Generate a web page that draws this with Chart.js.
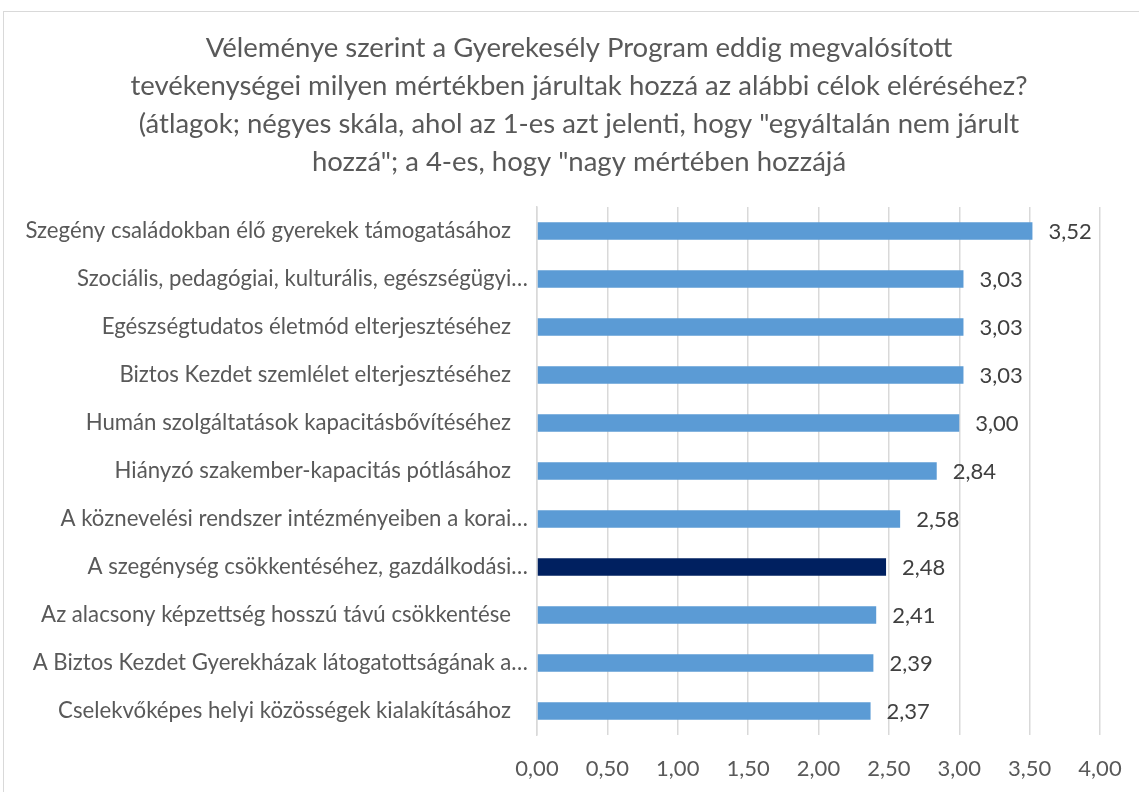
<!DOCTYPE html>
<html>
<head>
<meta charset="utf-8">
<script src="https://cdn.jsdelivr.net/npm/chart.js@4"></script>
<style>
  html, body { margin:0; padding:0; background:#fff; overflow:hidden; }
  #wrap { position:relative; width:1139px; height:792px; }
  #frame { position:absolute; left:3px; top:11px; width:1200px; height:900px; border:1px solid #d9d9d9; }
  #chart { position:absolute; left:0; top:0; }
</style>
</head>
<body>
<div id="wrap">
  <div id="frame"></div>
  <canvas id="chart" width="1139" height="792"></canvas>
</div>
<script>
// ---- chart data ----
const TITLE_LINES = [
  "Véleménye szerint a Gyerekesély Program eddig megvalósított",
  "tevékenységei milyen mértékben járultak hozzá az alábbi célok eléréséhez?",
  "(átlagok; négyes skála, ahol az 1-es azt jelenti, hogy \"egyáltalán nem járult",
  "hozzá\"; a 4-es, hogy \"nagy mértében hozzájá"
];

const categories = [
  "Szegény családokban élő gyerekek támogatásához",
  "Szociális, pedagógiai, kulturális, egészségügyi…",
  "Egészségtudatos életmód elterjesztéséhez",
  "Biztos Kezdet szemlélet elterjesztéséhez",
  "Humán szolgáltatások kapacitásbővítéséhez",
  "Hiányzó szakember-kapacitás pótlásához",
  "A köznevelési rendszer intézményeiben a korai…",
  "A szegénység csökkentéséhez, gazdálkodási…",
  "Az alacsony képzettség hosszú távú csökkentése",
  "A Biztos Kezdet Gyerekházak látogatottságának a…",
  "Cselekvőképes helyi közösségek kialakításához"
];

const values = [3.52, 3.03, 3.03, 3.03, 3.00, 2.84, 2.58, 2.48, 2.41, 2.39, 2.37];

const xTicks = [0, 0.5, 1, 1.5, 2, 2.5, 3, 3.5, 4];

const highlighted = 7;   // dark bar

// ---- helpers ----
const FONT = "Lato, 'Open Sans', sans-serif";
const fmt = (v) => v.toFixed(2).replace(".", ",");

// title drawn by hand: in the original it sits a bit right of the canvas centre
const titleBlock = {
  id: "titleBlock",
  afterDraw(chart) {
    const { ctx } = chart;
    ctx.save();
    ctx.font = "27.5px " + FONT;
    ctx.fillStyle = "#595959";
    ctx.textAlign = "center";
    ctx.textBaseline = "middle";
    TITLE_LINES.forEach((line, i) => ctx.fillText(line, 579, 48 + i * 38));
    ctx.restore();
  }
};

// value labels at the end of each bar
const valueLabels = {
  id: "valueLabels",
  afterDatasetsDraw(chart) {
    const { ctx } = chart;
    const meta = chart.getDatasetMeta(0);
    ctx.save();
    ctx.font = "22px " + FONT;
    ctx.fillStyle = "#404040";
    ctx.textAlign = "left";
    ctx.textBaseline = "middle";
    meta.data.forEach((bar, i) => {
      ctx.fillText(fmt(values[i]), bar.x + 16, bar.y + 1);
    });
    ctx.restore();
  }
};

new Chart(document.getElementById("chart"), {
  type: "bar",
  data: {
    labels: categories,
    datasets: [{
      data: values,
      backgroundColor: values.map((v, i) => i === highlighted ? "#002060" : "#5b9bd5"),
      borderWidth: 0,
      barPercentage: 0.36,
      categoryPercentage: 1
    }]
  },
  options: {
    indexAxis: "y",
    responsive: false,
    animation: false,
    layout: { padding: { left: 0, right: 39, top: 207, bottom: 0 } },
    plugins: {
      legend: { display: false },
      tooltip: { enabled: false },
      title: { display: false }
    },
    scales: {
      x: {
        min: 0, max: 4,
        afterBuildTicks: (s) => { s.ticks = xTicks.map(v => ({ value: v })); },
        afterFit: (s) => { s.height = 57; s.paddingLeft = 0; s.paddingRight = 0; },
        grid: { color: "#d9d9d9", lineWidth: 1.5, drawTicks: false },
        border: { display: false },
        ticks: {
          padding: 21,
          color: "#595959",
          font: { family: FONT, size: 22 },
          callback: (v) => fmt(v)
        }
      },
      y: {
        afterFit: (s) => { s.width = 537; },
        grid: { display: false, drawTicks: false },
        border: { display: true, color: "#d9d9d9", width: 1.5 },
        ticks: {
          padding: 9,
          color: "#595959",
          font: { family: FONT, size: 22.2 },
          // Excel leaves a gap after the labels that are not cut off
          callback: (v, i) => categories[i].endsWith("…") ? categories[i] : categories[i] + "   "
        }
      }
    }
  },
  plugins: [titleBlock, valueLabels]
});
</script>
</body>
</html>
